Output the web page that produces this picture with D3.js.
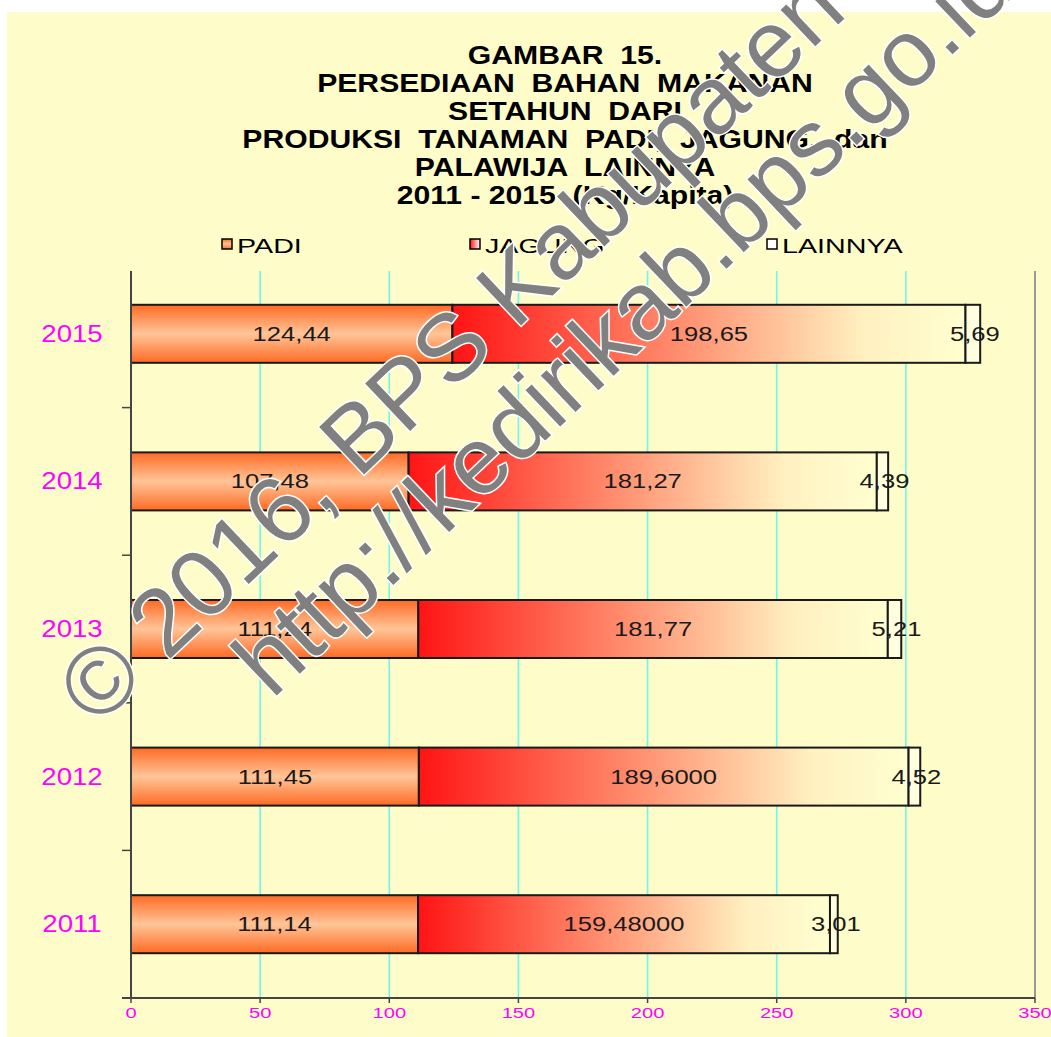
<!DOCTYPE html>
<html><head><meta charset="utf-8">
<script src="https://cdn.jsdelivr.net/npm/d3@7"></script>
<style>body{margin:0;background:#fff}svg{display:block}</style>
</head><body>
<script>
const categories = ["2011","2012","2013","2014","2015"];
const padi = [111.14, 111.45, 111.24, 107.48, 124.44];
const jagung = [159.48, 189.60, 181.77, 181.27, 198.65];
const lainnya = [3.01, 4.52, 5.21, 4.39, 5.69];
const padiLabels = ["111,14","111,45","111,24","107,48","124,44"];
const jagungLabels = ["159,48000","189,6000","181,77","181,27","198,65"];
const lainnyaLabels = ["3,01","4,52","5,21","4,39","5,69"];
const seriesNames = ["PADI","JAGUNG","LAINNYA"];
const xTicks = [0,50,100,150,200,250,300,350];
const titleLines = ["GAMBAR  15.","PERSEDIAAN  BAHAN  MAKANAN","SETAHUN  DARI","PRODUKSI  TANAMAN  PADI,  JAGUNG,  dan","PALAWIJA  LAINNYA","2011 - 2015  (Kg/Kapita)"];
const watermark = ["© 2016, BPS Kabupaten Kediri","http://kedirikab.bps.go.id"];

const W = 1051, H = 1037;
const svg = d3.select("body").append("svg").attr("width",W).attr("height",H)
  .style("font-family","'Liberation Sans', Arial, sans-serif");
const defs = svg.append("defs");
const gPadi = defs.append("linearGradient").attr("id","gPadi").attr("x1",0).attr("y1",0).attr("x2",0).attr("y2",1);
[[0,"#ff6a24"],[0.5,"#ffc598"],[1,"#ff6a24"]].forEach(s=>gPadi.append("stop").attr("offset",s[0]).attr("stop-color",s[1]));
const gJag = defs.append("linearGradient").attr("id","gJag").attr("x1",0).attr("y1",0).attr("x2",1).attr("y2",0);
[[0,"#ff1414"],[0.45,"#ff9070"],[0.8,"#fff0c0"],[1,"#ffffd0"]].forEach(s=>gJag.append("stop").attr("offset",s[0]).attr("stop-color",s[1]));
const gLeg = defs.append("linearGradient").attr("id","gLegJ").attr("x1",0).attr("y1",0).attr("x2",1).attr("y2",0);
[[0,"#ff1414"],[1,"#ffffff"]].forEach(s=>gLeg.append("stop").attr("offset",s[0]).attr("stop-color",s[1]));
const fills = ["url(#gPadi)","url(#gJag)","#ffffe0"];
const legFills = ["url(#gPadi)","url(#gLegJ)","#ffffff"];

svg.append("rect").attr("x",7).attr("y",12).attr("width",W-7).attr("height",H-12).attr("fill","#fefdca");

const x = d3.scaleLinear().domain([0,350]).range([131,1035]);
const y = d3.scaleBand().domain(categories.slice().reverse()).range([260,998]).paddingInner(0.607).paddingOuter(0.3035);
const plotTop = 271, plotBottom = 998;

// gridlines
svg.append("g").selectAll("line").data(xTicks.filter(t=>t>0 && t<350)).join("line")
  .attr("x1",d=>x(d)).attr("x2",d=>x(d)).attr("y1",plotTop).attr("y2",plotBottom)
  .attr("stroke","#6ff5ee").attr("stroke-width",1.6);
// right border
svg.append("line").attr("x1",x(350)).attr("x2",x(350)).attr("y1",plotTop).attr("y2",plotBottom)
  .attr("stroke","#999").attr("stroke-width",2);

// bars
const stacked = categories.map((c,i)=>({c, vals:[padi[i],jagung[i],lainnya[i]], labs:[padiLabels[i],jagungLabels[i],lainnyaLabels[i]]}));
const gBars = svg.append("g");
stacked.forEach(d=>{
  let acc = 0;
  d.vals.forEach((v,k)=>{
    const x0 = x(acc), x1 = x(acc+v);
    gBars.append("rect").attr("x",x0).attr("y",y(d.c)).attr("width",x1-x0).attr("height",y.bandwidth())
      .attr("fill",fills[k]).attr("stroke","#1a1a1a").attr("stroke-width",2);
    gBars.append("text").attr("transform",`translate(${(x0+x1)/2+(k===2?2:0)},${y(d.c)+y.bandwidth()/2+7}) scale(1.28,1)`)
      .attr("text-anchor","middle").attr("font-size",20).attr("fill","#1a1a1a").text(d.labs[k]);
    acc += v;
  });
});

// y axis
const yAx = svg.append("g");
yAx.append("line").attr("x1",131).attr("x2",131).attr("y1",plotTop).attr("y2",plotBottom).attr("stroke","#444").attr("stroke-width",2);
const bounds = categories.slice(1).map(c=>y(c)+y.bandwidth()+y.step()*y.paddingInner()/2);
yAx.selectAll("line.t").data(bounds).join("line").attr("class","t")
  .attr("x1",122).attr("x2",131).attr("y1",d=>d).attr("y2",d=>d).attr("stroke","#444").attr("stroke-width",1.5);
yAx.selectAll("text").data(categories).join("text")
  .attr("transform",d=>`translate(72,${y(d)+y.bandwidth()/2+8}) scale(1.2,1)`)
  .attr("text-anchor","middle").attr("font-size",23).attr("fill","#ff00ff").text(d=>d);

// x axis
const xAx = svg.append("g");
xAx.append("line").attr("x1",122).attr("x2",x(350)).attr("y1",plotBottom).attr("y2",plotBottom).attr("stroke","#444").attr("stroke-width",2);
xAx.selectAll("line.t").data(xTicks).join("line").attr("class","t")
  .attr("x1",d=>x(d)).attr("x2",d=>x(d)).attr("y1",plotBottom).attr("y2",plotBottom+5).attr("stroke","#444").attr("stroke-width",1.5);
xAx.selectAll("text").data(xTicks).join("text")
  .attr("transform",d=>`translate(${x(d)},${plotBottom+20}) scale(1.3,1)`)
  .attr("text-anchor","middle").attr("font-size",15.5).attr("fill","#ff00ff").text(d=>d);

// title
svg.append("g").selectAll("text").data(titleLines).join("text")
  .attr("transform",(d,i)=>`translate(565,${64+i*28}) scale(1.16,1)`)
  .attr("text-anchor","middle").attr("font-size",26).attr("font-weight","bold").attr("fill","#000")
  .style("white-space","pre").text(d=>d);

// legend
const legX = [222,470,767];
const leg = svg.append("g");
seriesNames.forEach((n,i)=>{
  leg.append("rect").attr("x",legX[i]).attr("y",239).attr("width",10).attr("height",10)
    .attr("fill",legFills[i]).attr("stroke","#000").attr("stroke-width",1.5);
  leg.append("text").attr("transform",`translate(${legX[i]+15},253) scale(1.4,1)`)
    .attr("font-size",20.5).attr("fill","#000").text(n);
});

// watermark
const wm = svg.append("g").attr("fill","#808080").attr("stroke","#fff").attr("stroke-width",3)
  .style("paint-order","stroke").attr("font-size",95);
const wmPos = [[97,728],[272,700]];
watermark.forEach((t,i)=>{
  wm.append("text").attr("transform",`translate(${wmPos[i][0]},${wmPos[i][1]}) rotate(-43.5)`).text(t);
});
</script>
</body></html>
